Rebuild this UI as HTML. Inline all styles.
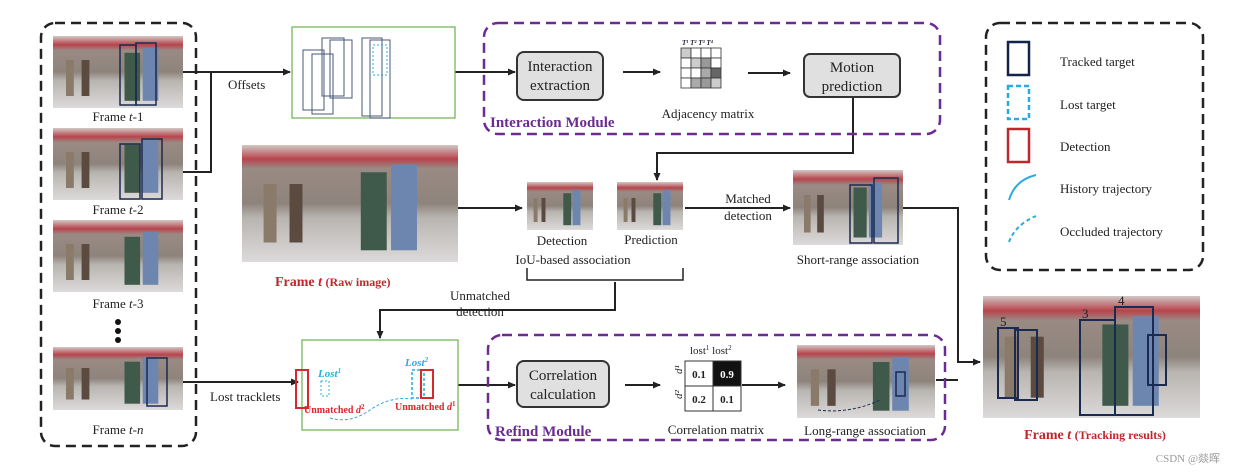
<!DOCTYPE html>
<html><head><meta charset="utf-8"><style>
body{margin:0;background:#fff}
svg{display:block}
text{font-family:"Liberation Serif",serif;fill:#222}
</style></head><body>
<svg width="1237" height="473" viewBox="0 0 1237 473" xmlns="http://www.w3.org/2000/svg">
<defs>
<linearGradient id="ph" x1="0" y1="0" x2="0" y2="1">
<stop offset="0" stop-color="#d0c8c4"/><stop offset="0.12" stop-color="#b8444c"/><stop offset="0.2" stop-color="#9a8a84"/><stop offset="0.5" stop-color="#8e847c"/><stop offset="0.62" stop-color="#b8b4b0"/><stop offset="1" stop-color="#dcdada"/>
</linearGradient>
<marker id="a" markerWidth="8" markerHeight="8" refX="7" refY="4" orient="auto" markerUnits="userSpaceOnUse"><path d="M0,0.5 L8,4 L0,7.5z" fill="#222"/></marker>
<symbol id="pp" viewBox="0 0 100 60" preserveAspectRatio="none">
<rect width="100" height="60" fill="url(#ph)"/>
<rect x="55" y="14" width="12" height="40" fill="#3f5a4a"/><rect x="69" y="10" width="12" height="44" fill="#6d86b0"/>
<rect x="10" y="20" width="6" height="30" fill="#8a7a6a"/><rect x="22" y="20" width="6" height="30" fill="#5a4a40"/>
</symbol>
</defs>
<rect x="41" y="23" width="155" height="423" rx="14" fill="none" stroke="#222" stroke-width="2.5" stroke-dasharray="10,6"/>
<use href="#pp" x="53" y="36" width="130" height="72"/>
<rect x="120" y="45" width="16" height="60" fill="none" stroke="#1a2a50" stroke-width="1.5"/><rect x="136" y="43" width="20" height="62" fill="none" stroke="#1a2a50" stroke-width="1.5"/>
<text x="118" y="121" font-size="13" text-anchor="middle">Frame <tspan font-style="italic">t</tspan>-1</text>
<use href="#pp" x="53" y="128" width="130" height="72"/>
<rect x="120" y="144" width="20" height="55" fill="none" stroke="#1a2a50" stroke-width="1.5"/><rect x="142" y="139" width="20" height="60" fill="none" stroke="#1a2a50" stroke-width="1.5"/>
<text x="118" y="214" font-size="13" text-anchor="middle">Frame <tspan font-style="italic">t</tspan>-2</text>
<use href="#pp" x="53" y="220" width="130" height="72"/>
<text x="118" y="308" font-size="13" text-anchor="middle">Frame <tspan font-style="italic">t</tspan>-3</text>
<circle cx="118" cy="322" r="3" fill="#111"/><circle cx="118" cy="331" r="3" fill="#111"/><circle cx="118" cy="340" r="3" fill="#111"/>
<use href="#pp" x="53" y="347" width="130" height="63"/>
<rect x="147" y="358" width="20" height="48" fill="none" stroke="#1a2a50" stroke-width="1.5"/>
<text x="118" y="434" font-size="13" text-anchor="middle">Frame <tspan font-style="italic">t</tspan>-<tspan font-style="italic">n</tspan></text>
<g stroke="#222" stroke-width="2" fill="none">
<path d="M183,72 H290" marker-end="url(#a)"/>
<path d="M183,172 H211 V72"/>
<path d="M183,382 H298" marker-end="url(#a)"/>
<path d="M455,72 H515" marker-end="url(#a)"/>
<path d="M623,72 H660" marker-end="url(#a)"/>
<path d="M748,73 H790" marker-end="url(#a)"/>
<path d="M853,97 V153 H657 V180" marker-end="url(#a)"/>
<path d="M458,208 H522" marker-end="url(#a)"/>
<path d="M685,208 H790" marker-end="url(#a)"/>
<path d="M527,268 V280 H683 V268" stroke-width="1.5"/>
<path d="M615,282 V310 H380 V338" marker-end="url(#a)"/>
<path d="M902,208 H958 V362 H980" marker-end="url(#a)"/>
<path d="M936,380 H958"/>
<path d="M458,385 H515" marker-end="url(#a)"/>
<path d="M625,385 H660" marker-end="url(#a)"/>
<path d="M742,385 H785" marker-end="url(#a)"/>
</g>
<text x="228" y="89" font-size="13">Offsets</text>
<text x="210" y="401" font-size="13">Lost tracklets</text>
<rect x="292" y="27" width="163" height="91" fill="#fff" stroke="#6ab04c" stroke-width="1.2"/>
<g fill="none" stroke="#4a5a7a" stroke-width="1"><rect x="303" y="50" width="21" height="60"/><rect x="312" y="54" width="21" height="60"/><rect x="322" y="38" width="22" height="58"/><rect x="330" y="40" width="22" height="58"/><rect x="362" y="38" width="20" height="78"/><rect x="370" y="40" width="20" height="78"/></g>
<rect x="373" y="45" width="14" height="30" fill="none" stroke="#29abe2" stroke-dasharray="2,2"/>
<rect x="484" y="23" width="456" height="111" rx="14" fill="none" stroke="#6a2c91" stroke-width="2.5" stroke-dasharray="10,6"/>
<text x="490" y="127" font-size="15" font-weight="bold" style="fill:#6a2c91">Interaction Module</text>
<rect x="517" y="52" width="86" height="48" rx="7" fill="#e0e0e0" stroke="#333" stroke-width="2"/>
<text x="560" y="71" font-size="15" text-anchor="middle">Interaction</text><text x="560" y="90" font-size="15" text-anchor="middle">extraction</text>
<g stroke="#333" stroke-width="0.8">
<rect x="681" y="48" width="10" height="10" fill="#ccc"/><rect x="691" y="48" width="10" height="10" fill="#fff"/><rect x="701" y="48" width="10" height="10" fill="#fff"/><rect x="711" y="48" width="10" height="10" fill="#fff"/>
<rect x="681" y="58" width="10" height="10" fill="#fff"/><rect x="691" y="58" width="10" height="10" fill="#ccc"/><rect x="701" y="58" width="10" height="10" fill="#999"/><rect x="711" y="58" width="10" height="10" fill="#fff"/>
<rect x="681" y="68" width="10" height="10" fill="#fff"/><rect x="691" y="68" width="10" height="10" fill="#fff"/><rect x="701" y="68" width="10" height="10" fill="#aaa"/><rect x="711" y="68" width="10" height="10" fill="#666"/>
<rect x="681" y="78" width="10" height="10" fill="#fff"/><rect x="691" y="78" width="10" height="10" fill="#aaa"/><rect x="701" y="78" width="10" height="10" fill="#999"/><rect x="711" y="78" width="10" height="10" fill="#ccc"/>
</g>
<text x="682" y="45" font-size="7" font-style="italic" font-weight="bold" style="fill:#223">T¹ T² T³ T⁴</text>
<text x="708" y="118" font-size="13" text-anchor="middle">Adjacency matrix</text>
<rect x="804" y="54" width="96" height="43" rx="6" fill="#e0e0e0" stroke="#333" stroke-width="2"/>
<text x="852" y="72" font-size="15" text-anchor="middle">Motion</text><text x="852" y="91" font-size="15" text-anchor="middle">prediction</text>
<use href="#pp" x="242" y="145" width="216" height="117"/>
<text x="275" y="286" font-size="14" font-weight="bold" style="fill:#c0272d">Frame <tspan font-style="italic">t</tspan>  <tspan font-size="12">(Raw image)</tspan></text>
<use href="#pp" x="527" y="182" width="66" height="48"/>
<use href="#pp" x="617" y="182" width="66" height="48"/>
<text x="562" y="245" font-size="13" text-anchor="middle">Detection</text>
<text x="651" y="244" font-size="13" text-anchor="middle">Prediction</text>
<text x="573" y="264" font-size="13" text-anchor="middle">IoU-based association</text>
<text x="748" y="203" font-size="13" text-anchor="middle">Matched</text><text x="748" y="220" font-size="13" text-anchor="middle">detection</text>
<text x="480" y="300" font-size="13" text-anchor="middle">Unmatched</text><text x="480" y="316" font-size="13" text-anchor="middle">detection</text>
<use href="#pp" x="793" y="170" width="110" height="75"/>
<rect x="850" y="185" width="22" height="58" fill="none" stroke="#1a2a50" stroke-width="1.5"/><rect x="874" y="178" width="24" height="65" fill="none" stroke="#1a2a50" stroke-width="1.5"/>
<text x="858" y="264" font-size="13" text-anchor="middle">Short-range association</text>
<rect x="986" y="23" width="217" height="247" rx="14" fill="none" stroke="#222" stroke-width="2.5" stroke-dasharray="10,6"/>
<rect x="1008" y="42" width="21" height="33" fill="none" stroke="#13244a" stroke-width="2.5"/>
<rect x="1008" y="86" width="21" height="33" fill="none" stroke="#29abe2" stroke-width="2.5" stroke-dasharray="5,3"/>
<rect x="1008" y="129" width="21" height="33" fill="none" stroke="#c0272d" stroke-width="2.5"/>
<path d="M1009,200 Q1015,180 1036,175" fill="none" stroke="#29abe2" stroke-width="2"/>
<path d="M1009,242 Q1015,225 1036,216" fill="none" stroke="#29abe2" stroke-width="2" stroke-dasharray="4,3"/>
<g font-size="13"><text x="1060" y="66">Tracked  target</text><text x="1060" y="109">Lost target</text><text x="1060" y="151">Detection</text><text x="1060" y="193">History trajectory</text><text x="1060" y="236">Occluded trajectory</text></g>
<use href="#pp" x="983" y="296" width="217" height="122"/>
<g fill="none" stroke="#1a2a50" stroke-width="2"><rect x="998" y="328" width="20" height="70"/><rect x="1015" y="330" width="22" height="70"/><rect x="1080" y="320" width="35" height="95"/><rect x="1115" y="307" width="38" height="108"/><rect x="1148" y="335" width="18" height="50"/></g>
<g font-size="13" font-family="Liberation Sans" style="fill:#111"><text x="1000" y="326">5</text><text x="1082" y="318">3</text><text x="1118" y="305">4</text></g>
<text x="1095" y="439" font-size="14" font-weight="bold" text-anchor="middle" style="fill:#c0272d">Frame <tspan font-style="italic">t</tspan>  <tspan font-size="12">(Tracking results)</tspan></text>
<rect x="302" y="340" width="156" height="90" fill="#fff" stroke="#6ab04c" stroke-width="1.2"/>
<rect x="296" y="370" width="12" height="38" fill="none" stroke="#d9272e" stroke-width="2"/>
<rect x="321" y="381" width="8" height="15" fill="none" stroke="#29abe2" stroke-dasharray="2,2"/>
<rect x="412" y="370" width="12" height="28" fill="none" stroke="#29abe2" stroke-width="1.5" stroke-dasharray="3,2"/>
<rect x="421" y="370" width="12" height="28" fill="none" stroke="#d9272e" stroke-width="2"/>
<path d="M330,418 Q350,424 370,410 T412,399" fill="none" stroke="#29abe2" stroke-dasharray="3,2"/>
<text x="318" y="377" font-size="11" font-style="italic" font-weight="bold" style="fill:#29abe2">Lost<tspan font-size="7" dy="-4">1</tspan></text>
<text x="405" y="366" font-size="11" font-style="italic" font-weight="bold" style="fill:#29abe2">Lost<tspan font-size="7" dy="-4">2</tspan></text>
<text x="304" y="413" font-size="10" font-weight="bold" style="fill:#d9272e">Unmatched <tspan font-style="italic">d</tspan><tspan font-size="7" dy="-4">2</tspan></text>
<text x="395" y="410" font-size="10" font-weight="bold" style="fill:#d9272e">Unmatched <tspan font-style="italic">d</tspan><tspan font-size="7" dy="-4">1</tspan></text>
<rect x="488" y="335" width="457" height="105" rx="14" fill="none" stroke="#6a2c91" stroke-width="2.5" stroke-dasharray="10,6"/>
<text x="495" y="436" font-size="15" font-weight="bold" style="fill:#6a2c91">Refind Module</text>
<rect x="517" y="361" width="92" height="46" rx="7" fill="#e0e0e0" stroke="#333" stroke-width="2"/>
<text x="563" y="380" font-size="15" text-anchor="middle">Correlation</text><text x="563" y="399" font-size="15" text-anchor="middle">calculation</text>
<rect x="685" y="361" width="28" height="25" fill="#fff" stroke="#333"/><rect x="713" y="361" width="28" height="25" fill="#111" stroke="#333"/>
<rect x="685" y="386" width="28" height="25" fill="#fff" stroke="#333"/><rect x="713" y="386" width="28" height="25" fill="#fff" stroke="#333"/>
<g font-size="11" font-weight="bold" text-anchor="middle"><text x="699" y="378">0.1</text><text x="727" y="378" style="fill:#fff">0.9</text><text x="699" y="403">0.2</text><text x="727" y="403">0.1</text></g>
<text x="690" y="354" font-size="11">lost<tspan font-size="7" dy="-4">1</tspan><tspan dy="4"> lost</tspan><tspan font-size="7" dy="-4">2</tspan></text>
<text x="678" y="378" font-size="11" font-style="italic" transform="rotate(-90 678 374)">d¹</text>
<text x="678" y="403" font-size="11" font-style="italic" transform="rotate(-90 678 399)">d²</text>
<text x="716" y="434" font-size="13" text-anchor="middle">Correlation matrix</text>
<use href="#pp" x="797" y="345" width="138" height="73"/>
<rect x="896" y="372" width="9" height="24" fill="none" stroke="#1a2a50" stroke-width="1.5"/>
<path d="M818,410 Q850,414 880,400" fill="none" stroke="#1a2a50" stroke-dasharray="3,2"/>
<text x="865" y="435" font-size="13" text-anchor="middle">Long-range  association</text>
<text x="1220" y="462" font-size="11" font-family="Liberation Sans, Noto Sans CJK SC, sans-serif" text-anchor="end" style="fill:#999">CSDN @燚晖</text>
</svg>
</body></html>
